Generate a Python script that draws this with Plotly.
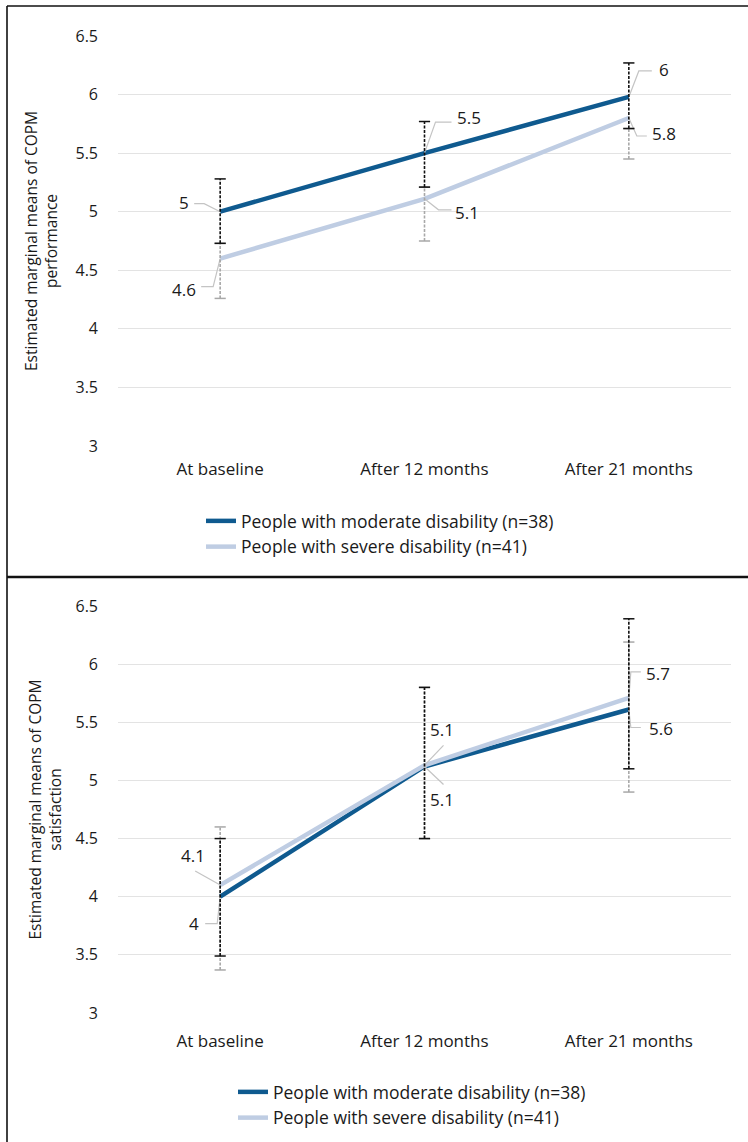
import plotly.graph_objects as go

# ---------------- data ----------------
categories = ["At baseline", "After 12 months", "After 21 months"]
series_names = ["People with moderate disability (n=38)", "People with severe disability (n=41)"]

perf_moderate = [5.0, 5.5, 5.98]
perf_severe = [4.6, 5.11, 5.8]
perf_moderate_lo = [4.73, 5.21, 5.71]
perf_moderate_hi = [5.28, 5.77, 6.27]
perf_severe_lo = [4.26, 4.75, 5.45]
perf_severe_hi = [4.73, 5.21, 5.71]
perf_labels_moderate = ["5", "5.5", "6"]
perf_labels_severe = ["4.6", "5.1", "5.8"]

sat_moderate = [4.0, 5.12, 5.61]
sat_severe = [4.1, 5.13, 5.71]
sat_moderate_lo = [3.49, 4.5, 5.10]
sat_moderate_hi = [4.5, 5.8, 6.39]
sat_severe_lo = [3.37, 4.5, 4.9]
sat_severe_hi = [4.6, 5.8, 6.19]
sat_labels_moderate = ["4", "5.1", "5.6"]
sat_labels_severe = ["4.1", "5.1", "5.7"]

y_ticks = [3, 3.5, 4, 4.5, 5, 5.5, 6, 6.5]
y_ticktext = ["3", "3.5", "4", "4.5", "5", "5.5", "6", "6.5"]
y_titles = ["Estimated marginal means of COPM<br>performance",
            "Estimated marginal means of COPM<br>satisfaction"]

# ---------------- style ----------------
W, H = 748, 1142
C_MOD = "#0f5a8f"
C_SEV = "#bfcde3"
C_BAR_MOD = "#111111"
C_BAR_SEV = "#a8a8a8"
C_LEAD = "#c4c4c4"
TXT = "#1a1a1a"
FONT = "Open Sans"

XDOM = [118 / W, 731 / W]
YDOM_TOP = [1 - 446 / H, 1 - 36 / H]
YDOM_BOT = [1 - 1013 / H, 1 - 606 / H]
XRANGE = [-0.5, 2.5]
YRANGE = [3, 6.5]

px_per_x = (XDOM[1] - XDOM[0]) * W / (XRANGE[1] - XRANGE[0])

fig = go.Figure()
xs = list(range(len(categories)))

# label/leader layout (pixel offsets from the point: dx right, dy up)
perf_mod_lab = [(-36, 9, [(0, 0), (-16, 8), (-26, 8)]),
                (44, 36, [(0, 0), (11, 31), (27, 31)]),
                (35, 27, [(0, 0), (10, 26), (23, 26)])]
perf_sev_lab = [(-36, -31, [(0, 0), (-7, -28), (-19, -28)]),
                (42, -14, [(0, 0), (14, -11), (27, -11)]),
                (35, -16, [(0, 0), (8, -18), (18, -18)])]
sat_mod_lab = [(-26, -27, [(0, 0), (-3, -27), (-15, -27)]),
               (17, -33, [(0, 0), (19, -18)]),
               (32, -19, [(0, 0), (2, -18), (12, -18)])]
sat_sev_lab = [(-27, 30, [(0, 0), (-25, 14)]),
               (17, 36, [(0, 0), (19, 20)]),
               (29, 24, [(0, 0), (2, 26), (12, 26)])]

panels = [
    dict(xaxis="x", yaxis="y", ydom=YDOM_TOP, legend="legend", title=y_titles[0], title_x=41,
         mod=perf_moderate, sev=perf_severe,
         mlo=perf_moderate_lo, mhi=perf_moderate_hi,
         slo=perf_severe_lo, shi=perf_severe_hi,
         mlab=perf_labels_moderate, slab=perf_labels_severe,
         mpos=perf_mod_lab, spos=perf_sev_lab),
    dict(xaxis="x2", yaxis="y2", ydom=YDOM_BOT, legend="legend2", title=y_titles[1], title_x=44,
         mod=sat_moderate, sev=sat_severe,
         mlo=sat_moderate_lo, mhi=sat_moderate_hi,
         slo=sat_severe_lo, shi=sat_severe_hi,
         mlab=sat_labels_moderate, slab=sat_labels_severe,
         mpos=sat_mod_lab, spos=sat_sev_lab),
]


def bar_traces(lo, hi, color, xa, ya):
    bx, by = [], []
    for i in xs:
        bx += [i, i, None]
        by += [lo[i], hi[i], None]
    line = go.Scatter(x=bx, y=by, mode="lines", xaxis=xa, yaxis=ya,
                      line=dict(color=color, width=1.6, dash="3px,1.5px"),
                      showlegend=False, hoverinfo="skip")
    caps = go.Scatter(x=xs + xs, y=list(lo) + list(hi), mode="markers", xaxis=xa, yaxis=ya,
                      marker=dict(symbol="line-ew", size=8, line=dict(color=color, width=1.5)),
                      showlegend=False, hoverinfo="skip")
    return [line, caps]


annotations = []
for p in panels:
    py_per_y = (p["ydom"][1] - p["ydom"][0]) * H / (YRANGE[1] - YRANGE[0])
    xa = p["xaxis"]
    ya = p["yaxis"]
    fig.add_trace(go.Scatter(x=xs, y=p["mod"], mode="lines", name=series_names[0],
                             line=dict(color=C_MOD, width=4.5), xaxis=xa, yaxis=ya,
                             legend=p["legend"], legendgroup="m", legendrank=1))
    fig.add_trace(go.Scatter(x=xs, y=p["sev"], mode="lines", name=series_names[1],
                             line=dict(color=C_SEV, width=4.5), xaxis=xa, yaxis=ya,
                             legend=p["legend"], legendgroup="s", legendrank=2))
    # leader lines for data labels
    for vals, pos in [(p["mod"], p["mpos"]), (p["sev"], p["spos"])]:
        lx, ly = [], []
        for i in xs:
            for (dx, dy) in pos[i][2]:
                lx.append(i + dx / px_per_x)
                ly.append(vals[i] + dy / py_per_y)
            lx.append(None)
            ly.append(None)
        fig.add_trace(go.Scatter(x=lx, y=ly, mode="lines", xaxis=xa, yaxis=ya,
                                 line=dict(color=C_LEAD, width=1.2),
                                 showlegend=False, hoverinfo="skip"))
    # error bars (severe first so moderate draws on top)
    for t in bar_traces(p["slo"], p["shi"], C_BAR_SEV, xa, ya):
        fig.add_trace(t)
    for t in bar_traces(p["mlo"], p["mhi"], C_BAR_MOD, xa, ya):
        fig.add_trace(t)
    # data labels
    for vals, labs, pos in [(p["mod"], p["mlab"], p["mpos"]), (p["sev"], p["slab"], p["spos"])]:
        for i in xs:
            annotations.append(dict(x=i, y=vals[i], xref=xa, yref=ya,
                                    text=labs[i], showarrow=False,
                                    xshift=pos[i][0], yshift=pos[i][1],
                                    font=dict(family=FONT, size=17, color=TXT)))
    # y-axis title
    annotations.append(dict(x=p["title_x"] / W, y=(p["ydom"][0] + p["ydom"][1]) / 2,
                            xref="paper", yref="paper", text=p["title"], showarrow=False,
                            textangle=-90, xanchor="center", yanchor="middle",
                            font=dict(family=FONT, size=15.5, color=TXT)))

yaxis_common = dict(range=YRANGE, tickvals=y_ticks, ticktext=y_ticktext,
                    showgrid=True, gridcolor="#e3e3e3", gridwidth=1,
                    zeroline=False, showline=False, ticks="",
                    ticklabelstandoff=19,
                    tickfont=dict(family=FONT, size=16, color=TXT),
                    automargin=False)
xaxis_common = dict(domain=XDOM, range=XRANGE, tickvals=xs, ticktext=categories,
                    showgrid=False, zeroline=False, showline=False, ticks="",
                    tickfont=dict(family=FONT, size=17, color=TXT), automargin=False)

fig.update_layout(
    width=W, height=H,
    margin=dict(l=0, r=0, t=0, b=0),
    paper_bgcolor="white", plot_bgcolor="white",
    font=dict(family=FONT, color=TXT),
    xaxis=dict(anchor="y", ticklabelstandoff=11, **xaxis_common),
    xaxis2=dict(anchor="y2", ticklabelstandoff=16, **xaxis_common),
    yaxis=dict(domain=YDOM_TOP, anchor="x", **yaxis_common),
    yaxis2=dict(domain=YDOM_BOT, anchor="x2", **yaxis_common),
    legend=dict(x=(241 - 40) / W, y=1 - 503 / H, xanchor="left", yanchor="top",
                font=dict(family=FONT, size=17.5, color=TXT), bgcolor="rgba(0,0,0,0)",
                tracegroupgap=2, traceorder="normal"),
    legend2=dict(x=(273 - 40) / W, y=1 - 1074 / H, xanchor="left", yanchor="top",
                 font=dict(family=FONT, size=17.5, color=TXT), bgcolor="rgba(0,0,0,0)",
                 tracegroupgap=0, traceorder="normal"),
    annotations=annotations,
    shapes=[
        dict(type="line", xref="paper", yref="paper", x0=7 / W, x1=1, y0=1 - 6 / H, y1=1 - 6 / H,
             line=dict(color="#111111", width=1.6)),
        dict(type="line", xref="paper", yref="paper", x0=7 / W, x1=7 / W, y0=0, y1=1 - 6 / H,
             line=dict(color="#111111", width=1.6)),
        dict(type="line", xref="paper", yref="paper", x0=7 / W, x1=1, y0=1 - 577 / H, y1=1 - 577 / H,
             line=dict(color="#111111", width=2.6)),
    ],
)

fig.write_html("out.html", config={"displayModeBar": False},
               post_script="document.body.style.margin='0';document.body.style.overflow='hidden';")
